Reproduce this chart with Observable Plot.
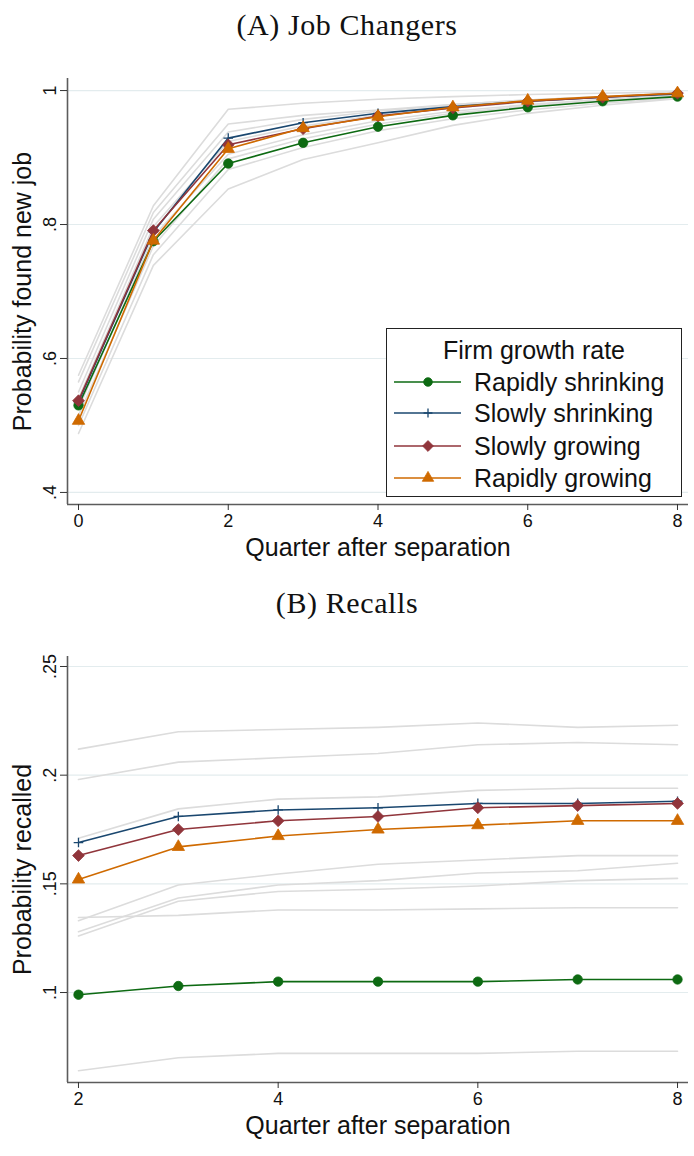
<!DOCTYPE html>
<html><head><meta charset="utf-8">
<script src="https://cdn.jsdelivr.net/npm/d3@7"></script>
<script src="https://cdn.jsdelivr.net/npm/@observablehq/plot@0.6"></script>
<style>
body{margin:0;background:#fff;}
#wrap{position:relative;width:694px;height:1156px;overflow:hidden;font-family:"Liberation Sans",Arial,sans-serif;color:#111;}
.title{position:absolute;left:0;width:694px;text-align:center;font-family:"Liberation Serif","Times New Roman",serif;font-size:30px;letter-spacing:0.6px;line-height:34px;color:#111;}
.panel{position:absolute;left:0;}
.legend{position:absolute;background:#fff;border:1px solid #222;box-sizing:border-box;}
.legend .lt{position:absolute;left:0;width:100%;text-align:center;font-size:25px;line-height:30px;}
.legend .row{position:absolute;left:0;height:30px;width:100%;}
.legend .row svg{position:absolute;left:0;top:0;}
.legend .row span{position:absolute;left:87px;top:0;font-size:25px;line-height:30px;white-space:nowrap;}
</style></head><body>
<div id="wrap">
  <div class="title" style="top:8px">(A) Job Changers</div>
  <div class="panel" id="pA" style="top:40px"></div>
  <div class="legend" id="legend" style="left:386px;top:328px;width:296px;height:169px"></div>
  <div class="title" style="top:586px">(B) Recalls</div>
  <div class="panel" id="pB" style="top:620px"></div>
</div>
<script>
// ---------- Data ----------
const seriesNames = ["Rapidly shrinking", "Slowly shrinking", "Slowly growing", "Rapidly growing"];
const seriesColors = ["#0d6a12", "#1a476f", "#90353b", "#cf6a00"];
const legendTitle = "Firm growth rate";

// Panel A: Job changers
const quartersA = [0, 1, 2, 3, 4, 5, 6, 7, 8];
const jobRapidlyShrinking = [0.530, 0.775, 0.891, 0.922, 0.946, 0.963, 0.975, 0.984, 0.991];
const jobSlowlyShrinking  = [0.535, 0.789, 0.929, 0.952, 0.966, 0.976, 0.984, 0.990, 0.995];
const jobSlowlyGrowing    = [0.537, 0.791, 0.919, 0.943, 0.962, 0.974, 0.984, 0.990, 0.996];
const jobRapidlyGrowing   = [0.507, 0.776, 0.913, 0.944, 0.961, 0.975, 0.985, 0.991, 0.996];
const jobGrayLines = [
  [0.575, 0.828, 0.972, 0.981, 0.987, 0.991, 0.994, 0.996, 0.998],
  [0.565, 0.818, 0.950, 0.963, 0.971, 0.979, 0.986, 0.991, 0.996],
  [0.550, 0.808, 0.938, 0.957, 0.969, 0.979, 0.986, 0.991, 0.996],
  [0.540, 0.797, 0.924, 0.947, 0.963, 0.974, 0.983, 0.990, 0.995],
  [0.525, 0.782, 0.905, 0.934, 0.955, 0.969, 0.979, 0.987, 0.993],
  [0.515, 0.768, 0.898, 0.928, 0.950, 0.966, 0.977, 0.985, 0.992],
  [0.500, 0.755, 0.882, 0.915, 0.940, 0.958, 0.971, 0.981, 0.989],
  [0.488, 0.739, 0.853, 0.897, 0.922, 0.948, 0.966, 0.978, 0.988]
];
const xTicksA = [0, 2, 4, 6, 8];
const yTicksA = [0.4, 0.6, 0.8, 1];

// Panel B: Recalls
const quartersB = [2, 3, 4, 5, 6, 7, 8];
const recallRapidlyShrinking = [0.099, 0.103, 0.105, 0.105, 0.105, 0.106, 0.106];
const recallSlowlyShrinking  = [0.169, 0.181, 0.184, 0.185, 0.187, 0.187, 0.188];
const recallSlowlyGrowing    = [0.163, 0.175, 0.179, 0.181, 0.185, 0.186, 0.187];
const recallRapidlyGrowing   = [0.152, 0.167, 0.172, 0.175, 0.177, 0.179, 0.179];
const recallGrayLines = [
  [0.212, 0.220, 0.221, 0.222, 0.224, 0.222, 0.223],
  [0.198, 0.206, 0.208, 0.210, 0.214, 0.215, 0.214],
  [0.171, 0.1845, 0.189, 0.190, 0.193, 0.194, 0.194],
  [0.133, 0.1495, 0.1545, 0.159, 0.161, 0.163, 0.163],
  [0.128, 0.1435, 0.1495, 0.1515, 0.155, 0.156, 0.1595],
  [0.126, 0.142, 0.1465, 0.1475, 0.149, 0.1515, 0.1525],
  [0.1345, 0.1355, 0.138, 0.138, 0.1385, 0.139, 0.139],
  [0.064, 0.070, 0.072, 0.072, 0.072, 0.073, 0.073]
];
const xTicksB = [2, 4, 6, 8];
const yTicksB = [0.1, 0.15, 0.2, 0.25];

// ---------- Drawing ----------
const symbolSpec = [
  {plot: "circle", r: 4.7, filled: true, d3: d3.symbolCircle},
  {plot: "plus", r: 3.2, filled: false, d3: d3.symbolPlus},
  {plot: "diamond2", r: 5.3, filled: true, d3: d3.symbolDiamond2},
  {plot: "triangle", r: 4.6, filled: true, d3: d3.symbolTriangle}
];
const fmtTick = d => String(d).replace(/^0\./, ".");

function panel({quarters, series, gray, xDomain, yDomain, xTicks, yTicks, yLabel, xLabel, height, marginTop, marginBottom}) {
  const grayRows = gray.flatMap((vals, g) => vals.map((v, i) => ({q: quarters[i], v, g})));
  const seriesMarks = series.flatMap((vals, s) => {
    const rows = vals.map((v, i) => ({q: quarters[i], v}));
    const sp = symbolSpec[s];
    const c = seriesColors[s];
    return [
      Plot.line(rows, {x: "q", y: "v", stroke: c, strokeWidth: 1.6}),
      Plot.dot(rows, sp.filled
        ? {x: "q", y: "v", symbol: sp.plot, r: sp.r, fill: c, stroke: c, strokeWidth: 0.8}
        : {x: "q", y: "v", symbol: sp.plot, r: sp.r, stroke: c, strokeWidth: 1.3})
    ];
  });
  return Plot.plot({
    width: 694, height, marginLeft: 67, marginRight: 6, marginTop, marginBottom,
    x: {domain: xDomain},
    y: {domain: yDomain},
    style: {fontFamily: "'Liberation Sans', Arial, sans-serif", fontSize: "18px", color: "#111", background: "transparent", overflow: "visible"},
    marks: [
      Plot.gridY(yTicks, {stroke: "#e3ecee", strokeOpacity: 1, strokeWidth: 1.2}),
      Plot.line(grayRows, {x: "q", y: "v", z: "g", stroke: "#dcdcdc", strokeWidth: 1.6}),
      ...seriesMarks,
      Plot.ruleX([xDomain[0]], {stroke: "#5c5c5c", strokeWidth: 1.6}),
      Plot.ruleY([yDomain[0]], {stroke: "#5c5c5c", strokeWidth: 1.6}),
      Plot.axisX({ticks: xTicks, tickSize: 6, tickPadding: 4, tickFormat: d => String(d), label: null, stroke: "#333"}),
      Plot.axisY({ticks: yTicks, tickSize: 7, tickFormat: () => "", label: null, stroke: "#333"}),
      Plot.text(yTicks, {y: d => d, text: fmtTick, frameAnchor: "left", dx: -17, rotate: -90, textAnchor: "middle", lineAnchor: "middle", fontSize: 18}),
      Plot.text([yLabel], {text: d => d, frameAnchor: "left", dx: -45, rotate: -90, textAnchor: "middle", lineAnchor: "middle", fontSize: 25}),
      Plot.text([xLabel], {text: d => d, frameAnchor: "bottom", dy: 43, textAnchor: "middle", lineAnchor: "middle", fontSize: 25})
    ]
  });
}

document.getElementById("pA").append(panel({
  quarters: quartersA,
  series: [jobRapidlyShrinking, jobSlowlyShrinking, jobSlowlyGrowing, jobRapidlyGrowing],
  gray: jobGrayLines,
  xDomain: [-0.147, 8.147], yDomain: [0.382, 1.018],
  xTicks: xTicksA, yTicks: yTicksA,
  yLabel: "Probability found new job", xLabel: "Quarter after separation",
  height: 530, marginTop: 38, marginBottom: 66
}));

document.getElementById("pB").append(panel({
  quarters: quartersB,
  series: [recallRapidlyShrinking, recallSlowlyShrinking, recallSlowlyGrowing, recallRapidlyGrowing],
  gray: recallGrayLines,
  xDomain: [1.89, 8.11], yDomain: [0.0586, 0.2546],
  xTicks: xTicksB, yTicks: yTicksB,
  yLabel: "Probability recalled", xLabel: "Quarter after separation",
  height: 536, marginTop: 36, marginBottom: 74
}));

// Legend
const legend = document.getElementById("legend");
const lt = document.createElement("div");
lt.className = "lt"; lt.style.top = "6px"; lt.textContent = legendTitle;
legend.append(lt);
const rowTops = [38, 69, 102, 134];
seriesNames.forEach((name, s) => {
  const row = document.createElement("div");
  row.className = "row"; row.style.top = rowTops[s] + "px";
  const svg = d3.create("svg").attr("width", 80).attr("height", 30);
  const c = seriesColors[s], sp = symbolSpec[s];
  svg.append("line").attr("x1", 7).attr("x2", 74).attr("y1", 15).attr("y2", 15).attr("stroke", c).attr("stroke-width", 1.6);
  const path = svg.append("path").attr("transform", "translate(41,15)")
    .attr("d", d3.symbol().type(sp.d3).size(Math.PI * sp.r * sp.r * 0.85)());
  if (sp.filled) path.attr("fill", c).attr("stroke", c).attr("stroke-width", 0.8);
  else path.attr("fill", "none").attr("stroke", c).attr("stroke-width", 1.3);
  row.append(svg.node());
  const sEl = document.createElement("span"); sEl.textContent = name;
  row.append(sEl);
  legend.append(row);
});
</script>
</body></html>
